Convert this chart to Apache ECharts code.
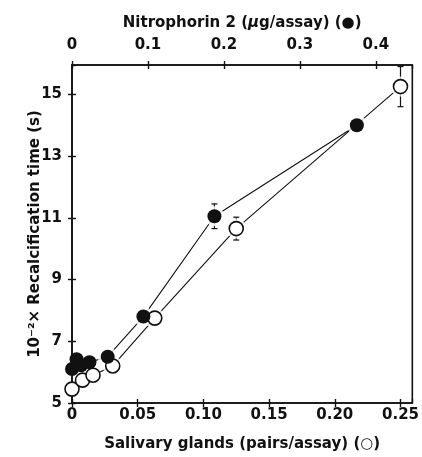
<!DOCTYPE html>
<html>
<head>
<meta charset="utf-8">
<script src="https://cdn.jsdelivr.net/npm/echarts@6/dist/echarts.min.js"></script>
<style>
html,body{margin:0;padding:0;background:#fff;}
#chart{width:422px;height:457px;}
</style>
</head>
<body>
<div id="chart"></div>
<script>
// Salivary glands (pairs/assay), open circles, bottom axis
var glandsDose = [0, 0.008, 0.016, 0.031, 0.063, 0.125, 0.25];
var glandsTime = [5.45, 5.74, 5.9, 6.2, 7.75, 10.65, 15.25];
var glandsErr  = [0, 0, 0, 0, 0, 0.37, 0.65];

// Nitrophorin 2 (ug/assay), filled circles, top axis
var nitroDose = [0, 0.006, 0.012, 0.023, 0.047, 0.094, 0.1875, 0.375];
var nitroTime = [6.1, 6.42, 6.22, 6.32, 6.5, 7.8, 11.05, 14.0];
var nitroErr  = [0, 0, 0, 0, 0, 0, 0.4, 0];

var bottomTicks = [0, 0.05, 0.10, 0.15, 0.20, 0.25];
var topTicks = [0, 0.1, 0.2, 0.3, 0.4];
var yTicks = [5, 7, 9, 11, 13, 15];

var FONT = '"DejaVu Sans", "Liberation Sans", Arial, sans-serif';
var INK = '#111';

function pairs(xs, ys) { return xs.map(function (x, i) { return [x, ys[i]]; }); }
function errs(xs, ys, es) {
  var out = [];
  xs.forEach(function (x, i) { if (es[i] > 0) out.push([x, ys[i] - es[i], ys[i] + es[i]]); });
  return out;
}
function halos(xs, ys, minX) {
  var out = [];
  xs.forEach(function (x, i) { if (x > minX) out.push([x, ys[i]]); });
  return out;
}
function errRender(params, api) {
  var x = api.value(0);
  var lo = api.coord([x, api.value(1)]);
  var hi = api.coord([x, api.value(2)]);
  var w = 3;
  var st = { stroke: INK, lineWidth: 1.2 };
  return {
    type: 'group',
    children: [
      { type: 'line', shape: { x1: lo[0], y1: lo[1], x2: hi[0], y2: hi[1] }, style: st },
      { type: 'line', shape: { x1: lo[0] - w, y1: lo[1], x2: lo[0] + w, y2: lo[1] }, style: st },
      { type: 'line', shape: { x1: hi[0] - w, y1: hi[1], x2: hi[0] + w, y2: hi[1] }, style: st }
    ]
  };
}

var labelStyle = { fontFamily: FONT, fontWeight: 'bold', fontSize: 15, color: INK };
var axisLine = { show: true, lineStyle: { color: INK, width: 1.6 } };

function fmt(ticks, digits) {
  return function (v) {
    var hit = ticks.some(function (t) { return Math.abs(t - v) < 1e-9; });
    if (!hit) return '';
    return v === 0 ? '0' : v.toFixed(digits);
  };
}

function xAx(pos, max, interval, opts) {
  var base = {
    type: 'value', position: pos, min: 0, max: max, interval: interval,
    splitLine: { show: false },
    axisLine: axisLine,
    axisTick: { show: true, inside: false, length: 4, lineStyle: { color: INK, width: 1.4 } }
  };
  return Object.assign(base, opts || {});
}

var chart = echarts.init(document.getElementById('chart'), null, { renderer: 'canvas' });
chart.setOption({
  backgroundColor: '#fff',
  animation: false,
  grid: { left: 72, right: 7, top: 65, bottom: 53, show: true, borderColor: INK, borderWidth: 1.6, backgroundColor: 'transparent' },
  xAxis: [
    xAx('bottom', 0.259, 0.05, {
      name: 'Salivary glands (pairs/assay) (○)', nameLocation: 'middle', nameGap: 34, nameMoveOverlap: false,
      nameTextStyle: labelStyle,
      axisLabel: Object.assign({}, labelStyle, { margin: 5, showMaxLabel: false, formatter: fmt(bottomTicks, 2) })
    }),
    xAx('top', 0.448, 0.1, {
      name: 'Nitrophorin 2 ({i|μ}g/assay) (●)', nameLocation: 'middle', nameGap: 34, nameMoveOverlap: false,
      nameTextStyle: Object.assign({}, labelStyle, { rich: { i: Object.assign({}, labelStyle, { fontStyle: 'italic' }) } }),
      axisLabel: Object.assign({}, labelStyle, { margin: 12, showMaxLabel: false, formatter: fmt(topTicks, 1) })
    }),
    xAx('bottom', 0.259, 0.05, {
      axisLine: { show: false }, axisLabel: { show: false },
      axisTick: { show: true, inside: true, length: 4, lineStyle: { color: INK, width: 1.4 } }
    }),
    xAx('top', 0.448, 0.1, {
      axisLine: { show: false }, axisLabel: { show: false },
      axisTick: { show: true, inside: true, length: 4, lineStyle: { color: INK, width: 1.4 } }
    })
  ],
  yAxis: [
    {
      type: 'value', position: 'left', min: 5, max: 15.95, interval: 2,
      splitLine: { show: false }, axisLine: axisLine,
      axisTick: { show: true, inside: false, length: 4, lineStyle: { color: INK, width: 1.4 } },
      axisLabel: Object.assign({}, labelStyle, { margin: 10, showMaxLabel: false,
        formatter: function (v) { return yTicks.indexOf(v) >= 0 ? String(v) : ''; } }),
      name: '10⁻²× Recalcification time (s)', nameLocation: 'middle', nameGap: 29, nameMoveOverlap: false,
      nameTextStyle: labelStyle
    },
    {
      type: 'value', position: 'left', min: 5, max: 15.95, interval: 2,
      splitLine: { show: false }, axisLine: { show: false }, axisLabel: { show: false },
      axisTick: { show: true, inside: true, length: 4, lineStyle: { color: INK, width: 1.4 } }
    }
  ],
  series: [
    { type: 'line', xAxisIndex: 0, yAxisIndex: 0, data: pairs(glandsDose, glandsTime), showSymbol: false,
      lineStyle: { color: INK, width: 1.1 }, z: 2, silent: true },
    { type: 'line', xAxisIndex: 1, yAxisIndex: 0, data: pairs(nitroDose, nitroTime), showSymbol: false,
      lineStyle: { color: INK, width: 1.1 }, z: 2, silent: true },
    { type: 'custom', xAxisIndex: 0, yAxisIndex: 0, data: errs(glandsDose, glandsTime, glandsErr), renderItem: errRender, z: 3, silent: true },
    { type: 'custom', xAxisIndex: 1, yAxisIndex: 0, data: errs(nitroDose, nitroTime, nitroErr), renderItem: errRender, z: 3, silent: true },
    { type: 'scatter', xAxisIndex: 0, yAxisIndex: 0, data: halos(glandsDose, glandsTime, 0.02), symbolSize: 20,
      itemStyle: { color: '#fff' }, z: 4, silent: true },
    { type: 'scatter', xAxisIndex: 1, yAxisIndex: 0, data: halos(nitroDose, nitroTime, 0.04), symbolSize: 20,
      itemStyle: { color: '#fff' }, z: 4, silent: true },
    { type: 'scatter', xAxisIndex: 0, yAxisIndex: 0, data: pairs(glandsDose, glandsTime), symbolSize: 14,
      itemStyle: { color: '#fff', borderColor: INK, borderWidth: 1.6, opacity: 1 }, z: 5, silent: true },
    { type: 'scatter', xAxisIndex: 1, yAxisIndex: 0, data: pairs(nitroDose, nitroTime), symbolSize: 14,
      itemStyle: { color: INK, opacity: 1 }, z: 6, silent: true }
  ]
});
</script>
</body>
</html>
